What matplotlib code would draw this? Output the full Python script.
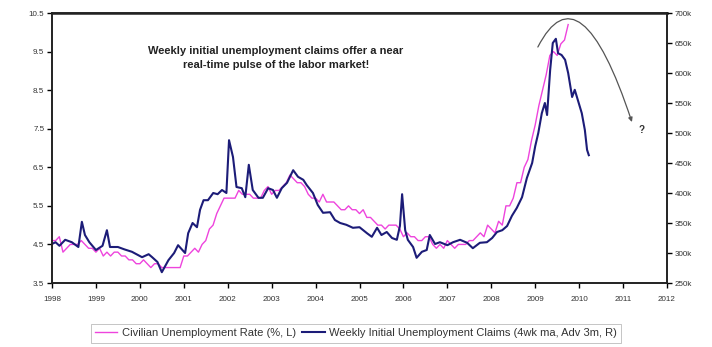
import numpy as np
import matplotlib
matplotlib.use("Agg")
import matplotlib.pyplot as plt
from matplotlib.path import Path
from matplotlib.patches import FancyArrowPatch

plt.rcParams['font.family'] = ['Liberation Sans', 'DejaVu Sans']

# civilian unemployment rate, monthly Jan 1998 - Oct 2009 (%)
rate_start = 1998.0
rate_values = [
    4.6, 4.6, 4.7, 4.3, 4.4, 4.5, 4.5, 4.5, 4.6, 4.5, 4.4, 4.4,
    4.3, 4.4, 4.2, 4.3, 4.2, 4.3, 4.3, 4.2, 4.2, 4.1, 4.1, 4.0,
    4.0, 4.1, 4.0, 3.9, 4.0, 4.0, 3.9, 3.9, 3.9, 3.9, 3.9, 3.9,
    4.2, 4.2, 4.3, 4.4, 4.3, 4.5, 4.6, 4.9, 5.0, 5.3, 5.5, 5.7,
    5.7, 5.7, 5.7, 5.9, 5.8, 5.8, 5.8, 5.7, 5.7, 5.7, 5.9, 6.0,
    5.8, 5.9, 5.9, 6.0, 6.1, 6.3, 6.2, 6.1, 6.1, 6.0, 5.8, 5.7,
    5.7, 5.6, 5.8, 5.6, 5.6, 5.6, 5.5, 5.4, 5.4, 5.5, 5.4, 5.4,
    5.3, 5.4, 5.2, 5.2, 5.1, 5.0, 5.0, 4.9, 5.0, 5.0, 5.0, 4.9,
    4.7, 4.8, 4.7, 4.7, 4.6, 4.6, 4.7, 4.7, 4.5, 4.4, 4.5, 4.4,
    4.6, 4.5, 4.4, 4.5, 4.5, 4.5, 4.6, 4.6, 4.7, 4.8, 4.7, 5.0,
    4.9, 4.8, 5.1, 5.0, 5.5, 5.5, 5.7, 6.1, 6.1, 6.5, 6.7, 7.2,
    7.6, 8.1, 8.5, 8.9, 9.4, 9.5, 9.4, 9.7, 9.8, 10.2,
]
rate_dates = rate_start + np.arange(len(rate_values)) / 12.0

# weekly initial claims, 4wk ma advanced 3m (thousands)
claims_dates = [
    1998.00, 1998.08, 1998.17, 1998.30, 1998.45, 1998.60, 1998.68, 1998.75,
    1998.85, 1999.00, 1999.15, 1999.25, 1999.32, 1999.50, 1999.65, 1999.82,
    2000.05, 2000.20, 2000.28, 2000.40, 2000.50, 2000.65, 2000.78, 2000.87,
    2001.03, 2001.10, 2001.20, 2001.30, 2001.37, 2001.45, 2001.55, 2001.67,
    2001.77, 2001.87, 2001.97, 2002.03, 2002.12, 2002.20, 2002.32, 2002.40,
    2002.48, 2002.57, 2002.70, 2002.80, 2002.92, 2003.03, 2003.12, 2003.23,
    2003.35, 2003.49, 2003.60, 2003.72, 2003.80, 2003.94, 2004.05, 2004.17,
    2004.33, 2004.44, 2004.56, 2004.70, 2004.85, 2005.00, 2005.17, 2005.28,
    2005.40, 2005.50, 2005.62, 2005.74, 2005.85, 2005.92, 2005.97, 2006.04,
    2006.10, 2006.22, 2006.30, 2006.42, 2006.53, 2006.60, 2006.72, 2006.83,
    2007.00, 2007.13, 2007.29, 2007.45, 2007.58, 2007.74, 2007.90, 2008.02,
    2008.13, 2008.25, 2008.36, 2008.47, 2008.58, 2008.70, 2008.81, 2008.93,
    2009.00, 2009.07, 2009.15, 2009.22, 2009.27, 2009.34, 2009.40, 2009.47,
    2009.52, 2009.60, 2009.68, 2009.75, 2009.84, 2009.90, 2009.97, 2010.06,
    2010.13, 2010.18, 2010.22,
]
claims_values = [
    315, 318, 312, 322, 318, 310, 352, 330,
    318, 305, 312, 338, 310, 310, 306, 302,
    293, 298, 293, 285, 268, 288, 300, 313,
    300, 333, 350, 343, 372, 388, 388, 400,
    398, 405, 400, 488, 460, 410, 408, 393,
    447, 405, 392, 392, 408, 405, 392, 408,
    417, 438, 427, 422, 413, 400, 380, 367,
    368, 355, 350, 347, 342, 343, 333, 327,
    342, 330, 335, 325, 322, 345, 398, 338,
    322, 310, 292, 302, 305, 330, 315, 318,
    313, 318, 322, 317, 308, 317, 318, 325,
    335, 338, 345, 362, 375, 393, 425, 450,
    478, 500, 533, 550, 530, 605, 650, 657,
    633, 630, 622, 600, 560, 572, 555, 533,
    505, 472, 463,
]

years = list(range(1998, 2013))
left_ticks = [3.5, 4.5, 5.5, 6.5, 7.5, 8.5, 9.5, 10.5]
right_ticks = list(range(250, 701, 50))

fig = plt.figure(figsize=(7.12, 3.47), dpi=100)
ax = fig.add_axes([52 / 712, 1 - 283 / 347, 615 / 712, 270 / 347])
ax2 = ax.twinx()

l1, = ax.plot(rate_dates, rate_values, color='#ee44dd', lw=1.0,
              label='Civilian Unemployment Rate (%, L)')
l2, = ax2.plot(claims_dates, claims_values, color='#1c1c78', lw=1.5,
               label='Weekly Initial Unemployment Claims (4wk ma, Adv 3m, R)')

ax.set_xlim(1998, 2012)
ax.set_ylim(3.5, 10.5)
ax2.set_ylim(250, 700)
ax.set_xticks(years)
ax.set_xticklabels([str(y) for y in years])
ax.set_yticks(left_ticks)
ax.set_yticklabels([f"{v:.1f}" for v in left_ticks])
ax2.set_yticks(right_ticks)
ax2.set_yticklabels([f"{v}k" for v in right_ticks])

for a in (ax, ax2):
    for s in a.spines.values():
        s.set_linewidth(1.2)
        s.set_color('#222222')
    a.tick_params(labelsize=5.8, labelcolor='#333333', length=3.5, width=1,
                  direction='out', pad=2)
ax.spines['top'].set_linewidth(1.8)
ax.tick_params(axis='x', pad=6)

ax.text(0.364, 0.878, "Weekly initial unemployment claims offer a near\n"
        "real-time pulse of the labor market!", transform=ax.transAxes,
        ha='center', va='top', fontsize=8, fontweight='bold',
        color='#222222', linespacing=1.45)

# curved arrow over the peak
arc = Path([(0.790, 0.874), (0.8585, 1.178), (0.943, 0.596)],
           [Path.MOVETO, Path.CURVE3, Path.CURVE3])
ax2.add_patch(FancyArrowPatch(path=arc, arrowstyle='-|>,head_length=2.5,head_width=1.2',
                              color='#555555', lw=0.9, transform=ax2.transAxes,
                              clip_on=False))
ax2.text(0.958, 0.567, "?", transform=ax2.transAxes, fontsize=7,
         fontweight='bold', color='#333333', ha='center', va='center')

leg = fig.legend(handles=[l1, l2], loc='center', bbox_to_anchor=(0.5, 0.04),
                 ncol=2, fontsize=8, frameon=True, fancybox=False,
                 handlelength=2, columnspacing=0.6, handletextpad=0.4,
                 borderpad=0.4)
leg.get_frame().set_edgecolor('#aaaaaa')
leg.get_frame().set_linewidth(0.6)
for t in leg.get_texts():
    t.set_color('#333333')

fig.savefig('out.png', dpi=100)
